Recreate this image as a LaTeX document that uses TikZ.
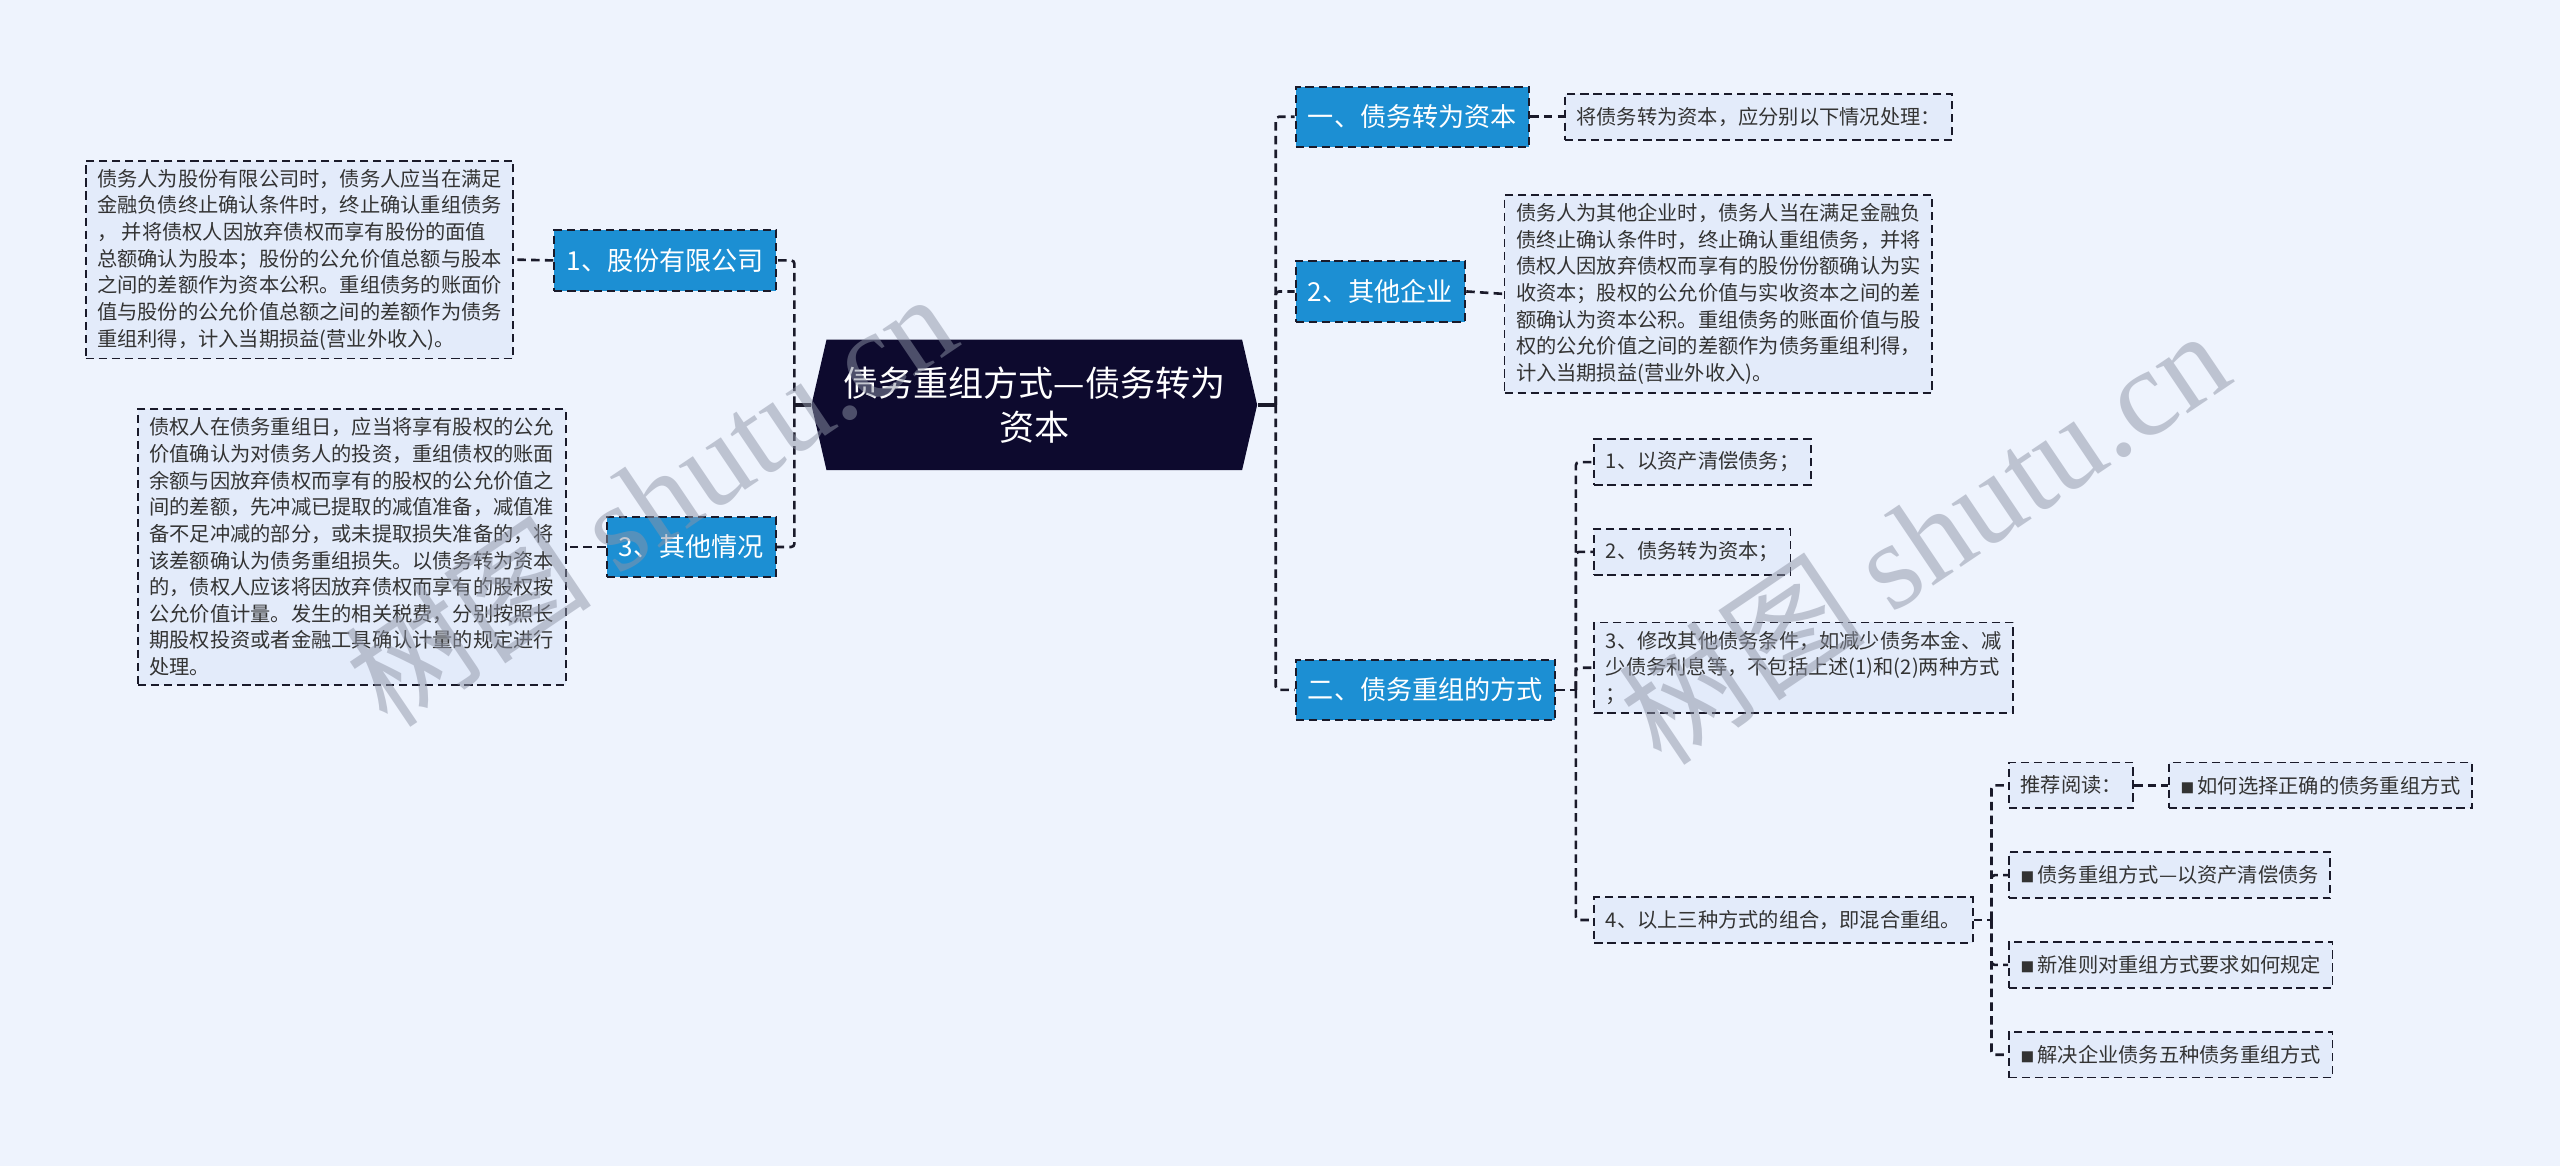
\documentclass[tikz,border=0pt]{standalone}
\usepackage{fontspec}
\setmainfont{Noto Sans CJK SC}
\newfontfamily\wmlat{Liberation Serif}
\usetikzlibrary{shapes.symbols}
\definecolor{bgc}{HTML}{EEF3FD}
\definecolor{navy}{HTML}{0D0A2E}
\definecolor{brblue}{HTML}{1C8FD3}
\definecolor{leafc}{HTML}{E3EBFA}
\definecolor{linec}{HTML}{1A1A2A}
\definecolor{txtc}{HTML}{333333}
\definecolor{wmc}{HTML}{8E94A6}
\tikzset{
  conn/.style={draw=linec, line width=0.8pt, dash pattern=on 2.6pt off 1.6pt, rounded corners=1pt},
  stub/.style={draw=linec, line width=1pt},
  branch/.style={rectangle, fill=brblue, draw=linec, line width=0.6pt, dash pattern=on 2.5pt off 1.5pt,
    text=white, font=\fontsize{8}{10}\selectfont, inner xsep=3.75pt, inner ysep=0pt, minimum height=18.5pt},
  leafbox/.style={rectangle, fill=leafc, draw=linec, line width=0.55pt, dash pattern=on 2.5pt off 1.5pt,
    text=txtc, font=\fontsize{6.2}{8.15}\selectfont, align=left, inner xsep=3.5pt, inner ysep=2.6pt, minimum height=14pt},
  wm/.style={text=wmc, opacity=0.5, font=\fontsize{38}{40}\selectfont, inner sep=0pt},
}
\newcommand{\sq}{{\fontsize{4.2}{4.2}\selectfont ■}\,}
\begin{document}
\begin{tikzpicture}[x=0.5pt,y=-0.5pt]
\fill[bgc] (0,0) rectangle (1568,714);
\useasboundingbox (0,0) rectangle (1568,714);

% central
\node[signal, signal to=east and west, signal pointer angle=154, fill=navy, text=white,
  font=\fontsize{10.75}{13.5}\selectfont, align=center, minimum width=136.5pt, minimum height=40pt, inner sep=0pt]
  (c) at (633.5,248) {债务重组方式—债务转为\\资本};

% left branches
\node[branch, anchor=east] (bl1) at (476,159.5) {1、股份有限公司};
\node[branch, anchor=east] (bl3) at (476,335) {3、其他情况};
\node[leafbox, anchor=east] (ll1) at (315,159) {债务人为股份有限公司时，债务人应当在满足\\金融负债终止确认条件时，终止确认重组债务\\，\ 并将债权人因放弃债权而享有股份的面值\\总额确认为股本；股份的公允价值总额与股本\\之间的差额作为资本公积。重组债务的账面价\\值与股份的公允价值总额之间的差额作为债务\\重组利得，计入当期损益(营业外收入)。};
\node[leafbox, anchor=east] (ll3) at (347,335) {债权人在债务重组日，应当将享有股权的公允\\价值确认为对债务人的投资，重组债权的账面\\余额与因放弃债权而享有的股权的公允价值之\\间的差额，先冲减已提取的减值准备，减值准\\备不足冲减的部分，或未提取损失准备的，将\\该差额确认为债务重组损失。以债务转为资本\\的，债权人应该将因放弃债权而享有的股权按\\公允价值计量。发生的相关税费，分别按照长\\期股权投资或者金融工具确认计量的规定进行\\处理。};

% right branches
\node[branch, anchor=west] (b1) at (793,71.5) {一、债务转为资本};
\node[branch, anchor=west] (b2) at (793,178.5) {2、其他企业};
\node[branch, anchor=west] (b3) at (793,422.5) {二、债务重组的方式};
\node[leafbox, anchor=west] (l1) at (958,71.5) {将债务转为资本，应分别以下情况处理：};
\node[leafbox, anchor=west] (l2) at (921,180) {债务人为其他企业时，债务人当在满足金融负\\债终止确认条件时，终止确认重组债务，并将\\债权人因放弃债权而享有的股份份额确认为实\\收资本；股权的公允价值与实收资本之间的差\\额确认为资本公积。重组债务的账面价值与股\\权的公允价值之间的差额作为债务重组利得，\\计入当期损益(营业外收入)。};

\node[leafbox, anchor=west] (r1) at (976,283) {1、以资产清偿债务；};
\node[leafbox, anchor=west] (r2) at (976,338) {2、债务转为资本；};
\node[leafbox, anchor=west] (r3) at (976,409) {3、修改其他债务条件，如减少债务本金、减\\少债务利息等，不包括上述(1)和(2)两种方式\\；};
\node[leafbox, anchor=west] (r4) at (976,563.5) {4、以上三种方式的组合，即混合重组。};

\node[leafbox, anchor=west] (s1) at (1230,481) {推荐阅读：};
\node[leafbox, anchor=west] (s1a) at (1328,481) {\sq 如何选择正确的债务重组方式};
\node[leafbox, anchor=west] (s2) at (1230,536) {\sq 债务重组方式—以资产清偿债务};
\node[leafbox, anchor=west] (s3) at (1230,591) {\sq 新准则对重组方式要求如何规定};
\node[leafbox, anchor=west] (s4) at (1230,646) {\sq 解决企业债务五种债务重组方式};

% connectors
\coordinate (jl) at ([xshift=-5pt]c.west);
\coordinate (jr) at ([xshift=5.5pt]c.east);
\draw[stub] (c.west) -- (jl);
\draw[stub] (c.east) -- (jr);
\draw[conn] (jl) |- (bl1.east);
\draw[conn] (jl) |- (bl3.east);
\draw[conn] (bl1.west) -- (ll1.east);
\draw[conn] (bl3.west) -- (ll3.east);
\draw[conn] (jr) |- (b1.west);
\draw[conn] (jr) |- (b2.west);
\draw[conn] (jr) |- (b3.west);
\draw[conn] (b1.east) -- (l1.west);
\draw[conn] (b2.east) -- (l2.west);
\coordinate (j3) at ([xshift=6pt]b3.east);
\draw[conn] (b3.east) -- (j3);
\draw[conn] (j3) |- (r1.west);
\draw[conn] (j3) |- (r2.west);
\draw[conn] (j3) |- (r3.west);
\draw[conn] (j3) |- (r4.west);
\coordinate (j4) at ([xshift=5.5pt]r4.east);
\draw[conn] (r4.east) -- (j4);
\draw[conn] (j4) |- (s1.west);
\draw[conn] (j4) |- (s2.west);
\draw[conn] (j4) |- (s3.west);
\draw[conn] (j4) |- (s4.west);
\draw[conn] (s1.east) -- (s1a.west);

% watermarks
\node[wm, rotate=34] (wm1) at (398,305) {树图 {\wmlat shutu.cn}};
\node[wm, rotate=34] (wm2) at (1178,328) {树图 {\wmlat shutu.cn}};
\end{tikzpicture}
\end{document}
